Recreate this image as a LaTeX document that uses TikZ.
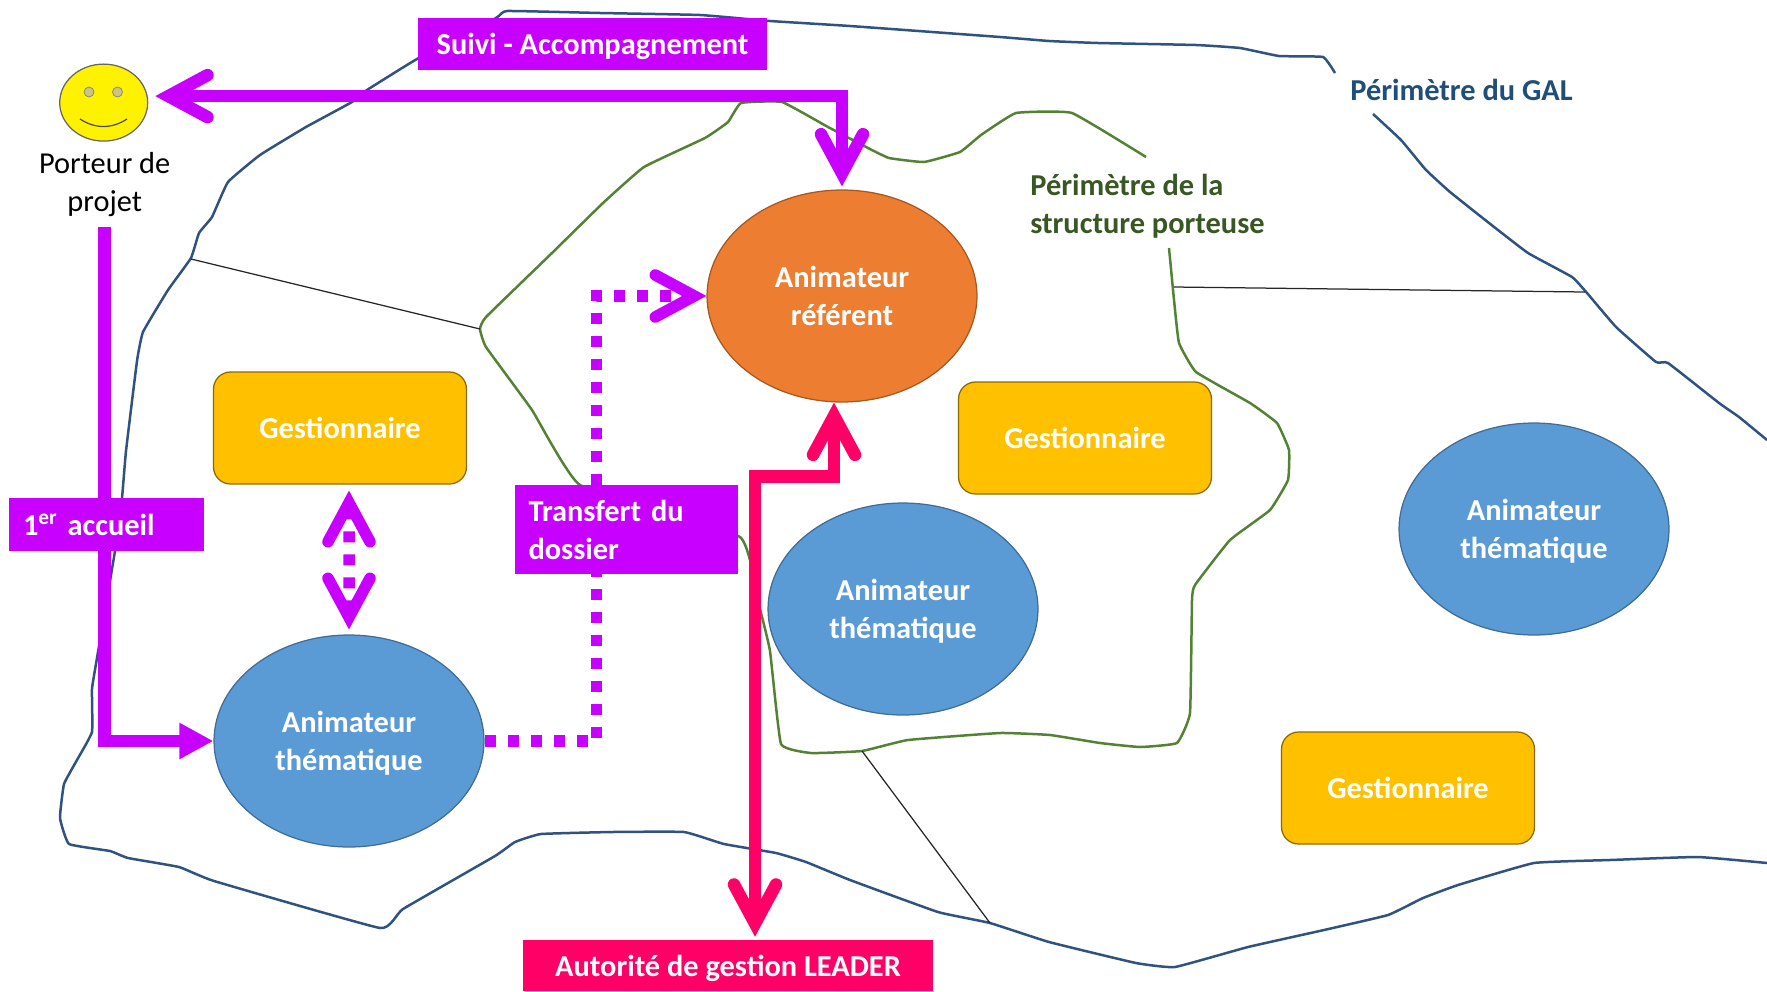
\documentclass[tikz,border=0pt]{standalone}
\usepackage{fontspec}
\setmainfont{Carlito}
\usetikzlibrary{positioning,arrows.meta,shapes.geometric}
\definecolor{ColorViolet}{RGB}{200,0,255}
\definecolor{ColorPink}{RGB}{255,0,102}
\definecolor{ColorGold}{RGB}{255,192,0}
\definecolor{ColorBlue}{RGB}{91,155,213}
\definecolor{ColorOrange}{RGB}{237,125,49}
\definecolor{ColorGal}{RGB}{47,82,128}
\definecolor{ColorStruct}{RGB}{84,130,53}
\definecolor{ColorGalText}{RGB}{31,78,121}
\definecolor{ColorStructText}{RGB}{56,87,35}
\tikzset{
	barbhead/.tip={Straight Barb[length=7.8mm,width=8.4mm,line cap=round,line join=miter]},
	labeltext/.style={font=\fontsize{17.3}{21.6}\selectfont\bfseries, inner sep=0pt},
	gestion/.style={rectangle, rounded corners=3.4mm, draw=ColorGold!55!black, line width=0.25mm, fill=ColorGold, text=white, labeltext, minimum width=50.6mm, minimum height=22.4mm},
	animateur/.style={ellipse, draw=ColorBlue!70!black, line width=0.25mm, fill=ColorBlue, text=white, labeltext, align=center, text depth=0pt, minimum width=54mm, minimum height=42.4mm},
	tagbox/.style={rectangle, fill=ColorViolet, text=white, labeltext, align=left},
	perimeter/.style={line width=0.5mm, line join=round},
	separator/.style={draw=black!85, line width=0.25mm},
	solidlink/.style={draw=ColorViolet, line width=2.5mm, line cap=butt},
	dotlink/.style={draw=ColorViolet, line width=2.3mm, dash pattern=on 2.2mm off 2.4mm},
	pinklink/.style={draw=ColorPink, line width=2.5mm},
}
\begin{document}
\begin{tikzpicture}[x=0.02cm,y=-0.02cm]
	\useasboundingbox (0,0) rectangle (1767,991);
	% perimeters
	\draw [perimeter,draw=ColorGal] plot [smooth,tension=0.2] coordinates {(1335,73) (1323,57) (1279,56) (1240,48) (1196,45) (1098,43) (1049,41) (1000,37) (850,26) (770,21) (700,15) (600,13) (507,11) (496,18) (417,59) (367,90) (352,102) (306,127) (260,155) (228,182) (212,217) (199,233) (191,258) (168,290) (143,332) (137,361) (126,451) (122,498) (115,551) (97,658) (92,689) (92,732) (77,760) (64,784) (60,818) (69,844) (110,851) (128,858) (179,867) (214,881) (380,928) (403,909) (495,856) (515,842) (541,834) (612,832) (684,832) (724,844) (776,853) (806,862) (850,880) (938,912) (990,923) (1049,942) (1136,963) (1175,967) (1248,947) (1324,930) (1388,915) (1423,898) (1458,885) (1534,863) (1610,860) (1698,857) (1767,863)};
	\draw [perimeter,draw=ColorGal] plot [smooth,tension=0.2] coordinates {(1373,114) (1401,140) (1426,170) (1450,192) (1489,223) (1528,253) (1572,277) (1587,293) (1616,327) (1656,362) (1668,363) (1719,403) (1739,417) (1767,440)};
	\draw [perimeter,draw=ColorStruct] plot [smooth,tension=0.2] coordinates {(1146,157) (1072,113) (1016,113) (981,135) (960,152) (924,162) (889,158) (868,148) (828,127) (782,102) (741,103) (728,122) (705,138) (644,167) (603,203) (552,253) (486,317) (480,329) (486,347) (532,410) (580,485) (740,537) (760,609) (770,651) (781,744) (811,753) (862,751) (908,740) (1000,733) (1050,735) (1100,743) (1140,747) (1177,743) (1190,713) (1192,600) (1195,585) (1230,540) (1270,510) (1288,480) (1289,450) (1277,423) (1250,403) (1196,372) (1179,343) (1174,300) (1169,248)};
	% separators
	\coordinate (galw) at (191,259);
	\coordinate (structw) at (480,329);
	\coordinate (structe) at (1174,287);
	\coordinate (gale) at (1585,292);
	\coordinate (structs) at (862,751);
	\coordinate (gals) at (990,923);
	\draw [separator] (galw) -- (structw);
	\draw [separator] (structe) -- (gale);
	\draw [separator] (structs) -- (gals);
	% porteur
	\node (face) [ellipse, draw=black!60, line width=0.25mm, fill=yellow, minimum width=17.6mm, minimum height=15.4mm, inner sep=0pt] at (103.7,102.6) {};
	\node (eyel) [circle, draw=black!50, fill=yellow!60!black!60, minimum size=2mm, inner sep=0pt] at (89,92) {};
	\node (eyer) [circle, draw=black!50, fill=yellow!60!black!60, minimum size=2mm, inner sep=0pt] at (117.5,92) {};
	\coordinate (mouthl) at (80,119);
	\coordinate (mouthr) at (127,119);
	\draw [black!70, line width=0.25mm] (mouthl) .. controls (95,129) and (112,129) .. (mouthr);
	\node (porteur) [below=2mm of face, xshift=0.2mm, font=\fontsize{17.3}{21.6}\selectfont, align=center, inner sep=0pt] {Porteur de\\projet};
	% main nodes
	\node (refer) [animateur, fill=ColorOrange, draw=ColorOrange!70!black] at (842,296) {Animateur\\référent};
	\node (anim1) [animateur] at (349,741) {Animateur\\thématique};
	\node (anim2) [animateur] at (903,609) {Animateur\\thématique};
	\node (anim3) [animateur] at (1534,529) {Animateur\\thématique};
	\node (gest1) [gestion] at (340,428) {Gestionnaire};
	\node (gest2) [gestion] at (1085,438) {Gestionnaire};
	\node (gest3) [gestion] at (1408,788) {Gestionnaire};
	\node (gal) [labeltext, text=ColorGalText, anchor=west] at (1350,90) {Périmètre du GAL};
	\node (struct) [labeltext, text=ColorStructText, anchor=west, align=left] at (1030,206) {Périmètre de la\\structure porteuse};
	\node (autorite) [rectangle, fill=ColorPink, text=white, labeltext, text depth=0pt, minimum width=82mm, minimum height=10.2mm] at (728,965.5) {Autorité de gestion LEADER};
	% links
	\draw [solidlink,{barbhead}-{barbhead}] ([shift={(1.4mm,1.3mm)}]face.east) -| ([yshift=0.6mm]refer.north);
	\draw [solidlink,-{Triangle[length=6.8mm,width=6.8mm]}] ([yshift=-2mm]porteur.south) |- (anim1.west);
	\draw [dotlink,{barbhead}-{barbhead}] ([xshift=1.8mm,yshift=-1.2mm]gest1.south) -- ([yshift=1mm]anim1.north);
	\draw [dotlink,-{barbhead}] (anim1.east) -- ++(112,0) |- (refer.west);
	\draw [pinklink,{barbhead}-{barbhead}] ([xshift=-1.6mm]refer.south) -- ++(0,74) -| ([xshift=5.4mm,yshift=0.6mm]autorite.north);
	% tags
	\node (suivi) [tagbox, text depth=0pt, minimum width=69.8mm, minimum height=10.4mm] at (592.5,44) {Suivi - Accompagnement};
	\node (accueil) [tagbox, minimum width=39mm, minimum height=10.6mm, text width=33.4mm] at (106.5,524.5) {1\textsuperscript{er} accueil};
	\node (transfert) [tagbox, minimum width=44.6mm, minimum height=17.8mm, text width=39.2mm] at (626.5,529.5) {Transfert du\\dossier};
\end{tikzpicture}
\end{document}
